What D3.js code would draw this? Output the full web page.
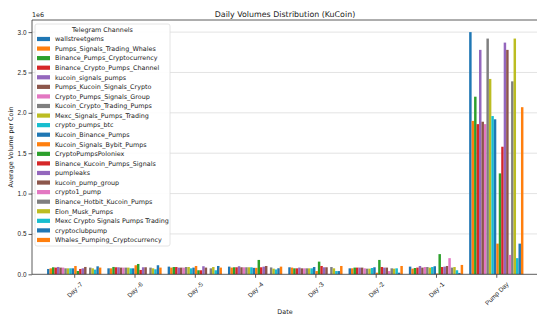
<!DOCTYPE html>
<html>
<head>
<meta charset="utf-8">
<script src="https://cdn.jsdelivr.net/npm/d3@7"></script>
<style>
  body { margin: 0; background: #fff; }
  svg { display: block; font-family: "DejaVu Sans", sans-serif; }
</style>
</head>
<body>
<div id="chart"></div>
<script>
// categories on the x axis
const days = ['Day -7', 'Day -6', 'Day -5', 'Day -4', 'Day -3', 'Day -2', 'Day -1', 'Pump Day'];

// telegram channels (legend order)
const channels = [
	'wallstreetgems', 'Pumps_Signals_Trading_Whales', 'Binance_Pumps_Cryptocurrency',
	'Binance_Crypto_Pumps_Channel', 'kucoin_signals_pumps', 'Pumps_Kucoin_Signals_Crypto',
	'Crypto_Pumps_Signals_Group', 'Kucoin_Crypto_Trading_Pumps', 'Mexc_Signals_Pumps_Trading',
	'crypto_pumps_btc', 'Kucoin_Binance_Pumps', 'Kucoin_Signals_Bybit_Pumps',
	'CryptoPumpsPoloniex', 'Binance_Kucoin_Pumps_Signals', 'pumpleaks', 'kucoin_pump_group',
	'crypto1_pump', 'Binance_Hotbit_Kucoin_Pumps', 'Elon_Musk_Pumps',
	'Mexc Crypto Signals Pumps Trading', 'cryptoclubpump', 'Whales_Pumping_Cryptocurrency'
];

// average volume per coin, units of 1e6, one value per channel
const day7 = [0.066,0.074,0.087,0.083,0.091,0.083,0.083,0.074,0.074,0.074,0.074,0.103,0.041,0.066,0.074,0.091,0.0,0.083,0.074,0.058,0.099,0.083];
const day6 = [0.074,0.074,0.091,0.087,0.087,0.083,0.083,0.083,0.083,0.074,0.074,0.112,0.128,0.054,0.087,0.087,0.0,0.083,0.074,0.062,0.112,0.083];
const day5 = [0.095,0.083,0.09,0.09,0.083,0.083,0.083,0.09,0.09,0.074,0.083,0.103,0.05,0.05,0.1,0.083,0.0,0.074,0.09,0.05,0.103,0.083];
const day4 = [0.095,0.083,0.087,0.087,0.1,0.087,0.087,0.087,0.087,0.087,0.08,0.08,0.178,0.087,0.095,0.103,0.005,0.085,0.07,0.06,0.075,0.095];
const day3 = [0.087,0.083,0.074,0.074,0.083,0.074,0.074,0.074,0.074,0.074,0.09,0.04,0.157,0.103,0.087,0.087,0.005,0.09,0.074,0.04,0.04,0.103];
const day2 = [0.074,0.074,0.083,0.083,0.083,0.083,0.074,0.07,0.07,0.078,0.087,0.02,0.178,0.09,0.083,0.083,0.04,0.074,0.07,0.074,0.02,0.103];
const day1 = [0.095,0.07,0.078,0.083,0.103,0.083,0.09,0.09,0.083,0.09,0.1,0.01,0.25,0.09,0.095,0.103,0.2,0.083,0.09,0.05,0.017,0.116];
const pumpDay = [3.0,1.90,2.20,1.86,2.78,1.89,1.86,2.92,2.42,1.96,1.92,0.38,1.25,1.58,2.87,2.78,0.24,2.39,2.92,0.20,0.38,2.07];

const yTicks = [0, 0.5, 1.0, 1.5, 2.0, 2.5, 3.0];

const series = [day7, day6, day5, day4, day3, day2, day1, pumpDay];
const tab10 = d3.schemeCategory10;
const fs = 6.4; // base font size

const W = 537, H = 318;
const m = { left: 32, right: -1.5, top: 20, bottom: 43.7 };
const width = W - m.left - m.right, height = H - m.top - m.bottom;
const groupW = 0.9, barW = groupW / channels.length;

const svg = d3.select('#chart').append('svg')
	.attr('width', W).attr('height', H)
	.attr('viewBox', `0 0 ${W} ${H}`);

const g = svg.append('g').attr('transform', `translate(${m.left},${m.top})`);

const x = d3.scaleLinear().domain([-0.7, days.length - 0.3]).range([0, width]);
const y = d3.scaleLinear().domain([0, 3.15]).range([height, 0]);

// grid
g.append('g').selectAll('line').data(yTicks.slice(1)).enter().append('line')
	.attr('x1', 0).attr('x2', width)
	.attr('y1', d => y(d)).attr('y2', d => y(d))
	.attr('stroke', '#dcdcdc').attr('stroke-width', 0.8);

// bars
const rows = [];
series.forEach((vals, di) => vals.forEach((v, ci) => rows.push({ di, ci, v })));
g.append('g').selectAll('rect').data(rows).enter().append('rect')
	.attr('x', d => x(d.di - groupW / 2 + d.ci * barW))
	.attr('width', x(barW) - x(0))
	.attr('y', d => y(d.v))
	.attr('height', d => height - y(d.v))
	.attr('fill', d => tab10[d.ci % 10]);

// axes
const yAxis = g.append('g').call(d3.axisLeft(y).tickValues(yTicks).tickFormat(d3.format('.1f')).tickSize(3.5).tickPadding(2));
const xAxis = g.append('g').attr('transform', `translate(0,${height})`)
	.call(d3.axisBottom(x).tickValues(d3.range(days.length)).tickFormat(i => days[i]).tickSize(3.5).tickSizeOuter(0));
[yAxis, xAxis].forEach(a => {
	a.select('.domain').remove();
	a.selectAll('line').attr('stroke', '#333').attr('stroke-width', 0.8);
	a.selectAll('text').attr('fill', '#222').style('font-size', fs + 'px');
});
xAxis.selectAll('.tick text').each(function() {
	const t = d3.select(this);
	const w = this.getComputedTextLength(), h = fs;
	const half = (w + h) * 0.7071 / 2;
	t.attr('y', 6.5 + half).attr('dy', '0.35em').attr('text-anchor', 'middle')
		.attr('transform', `rotate(-45,0,${6.5 + half})`);
});

// spines
g.append('line').attr('x1', 0).attr('x2', 0).attr('y1', 0).attr('y2', height).attr('stroke', '#333').attr('stroke-width', 0.8);
g.append('line').attr('x1', 0).attr('x2', width).attr('y1', height).attr('y2', height).attr('stroke', '#333').attr('stroke-width', 0.8);
g.append('line').attr('x1', 0).attr('x2', width).attr('y1', 0).attr('y2', 0).attr('stroke', '#333').attr('stroke-width', 0.8);

// texts
svg.append('text').attr('x', m.left).attr('y', 17).text('1e6').style('font-size', fs + 'px').attr('fill', '#222');
svg.append('text').attr('x', 285).attr('y', 17).attr('text-anchor', 'middle')
	.text('Daily Volumes Distribution (KuCoin)').style('font-size', '7.9px').attr('fill', '#222');
svg.append('text').attr('x', 285).attr('y', 314).attr('text-anchor', 'middle')
	.text('Date').style('font-size', fs + 'px').attr('fill', '#222');
svg.append('text').attr('transform', `translate(13,${m.top + height / 2}) rotate(-90)`).attr('text-anchor', 'middle')
	.text('Average Volume per Coin').style('font-size', fs + 'px').attr('fill', '#222');

// legend
const lg = svg.append('g').attr('transform', 'translate(35,24)');
lg.append('rect').attr('width', 135).attr('height', 222).attr('rx', 2)
	.attr('fill', '#fff').attr('fill-opacity', 0.9).attr('stroke', '#ddd').attr('stroke-width', 0.8);
lg.append('text').attr('x', 67.5).attr('y', 5.5).attr('dy', '0.35em').attr('text-anchor', 'middle')
	.text('Telegram Channels').style('font-size', fs + 'px').attr('fill', '#222');
const item = lg.selectAll('.item').data(channels).enter().append('g')
	.attr('transform', (d, i) => `translate(0,${15 + i * 9.57})`);
item.append('rect').attr('x', 2).attr('y', -2.1).attr('width', 13).attr('height', 4.2)
	.attr('fill', (d, i) => tab10[i % 10]);
item.append('text').attr('x', 20).attr('dy', '0.35em').text(d => d)
	.style('font-size', fs + 'px').attr('fill', '#222');
</script>
</body>
</html>
